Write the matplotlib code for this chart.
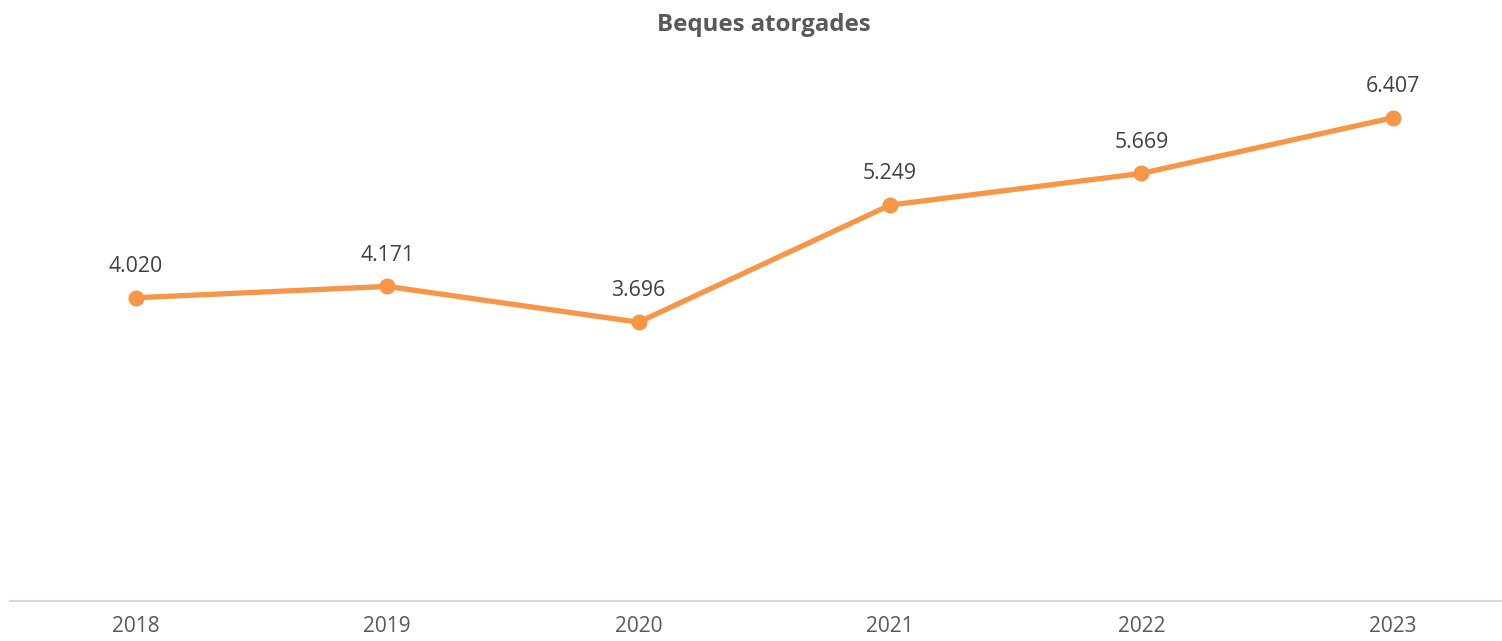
import numpy as np
import matplotlib.pyplot as plt

# dades
anys = ["2018", "2019", "2020", "2021", "2022", "2023"]
beques = [4020, 4171, 3696, 5249, 5669, 6407]
etiquetes = ["4.020", "4.171", "3.696", "5.249", "5.669", "6.407"]

plt.rcParams['font.family'] = ['Open Sans', 'DejaVu Sans']

fig = plt.figure(figsize=(15.02, 6.41), dpi=100)
ax = fig.add_axes([10/1502, 40/641, 1508.6/1502, 528/641])

x = np.arange(len(anys))
ax.plot(x, beques, color="#F79646", lw=3.8, marker="o", ms=10.5,
        solid_capstyle="round", zorder=3)
for xi, v, t in zip(x, beques, etiquetes):
    ax.annotate(t, (xi, v), xytext=(0, 15), textcoords="offset points",
                ha="center", va="bottom", fontsize=15.3, color="#404040")

ax.set_xlim(-0.5, 5.5)
ax.set_ylim(0, 7000)
ax.set_xticks(x)
ax.set_xticklabels(anys, fontsize=15, color="#595959")
ax.tick_params(axis="x", length=0, pad=11)
ax.set_yticks([])
for s in ["top", "right", "left"]:
    ax.spines[s].set_visible(False)
ax.spines["bottom"].set_color("#D9D9D9")
ax.spines["bottom"].set_linewidth(1.5)

fig.text(764/1502, 1 - 25/641, "Beques atorgades", ha="center", va="center",
         fontsize=17.3, fontweight="bold", color="#595959")

fig.savefig("out.png", dpi=100)
